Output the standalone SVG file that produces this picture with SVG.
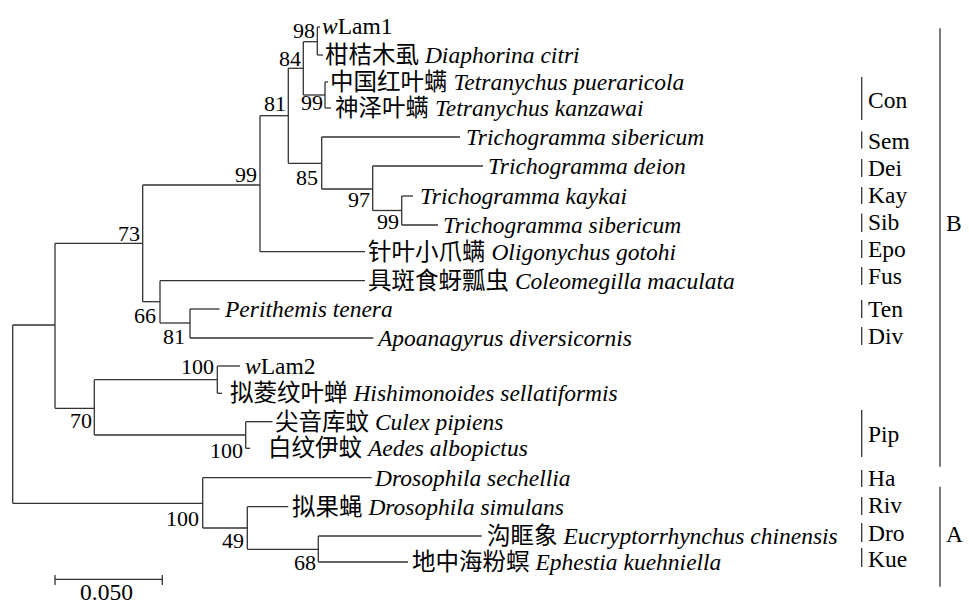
<svg xmlns="http://www.w3.org/2000/svg" width="969" height="604" viewBox="0 0 969 604">
<style>
.br{stroke:#333;stroke-width:1.3;fill:none}
.t{font-family:"Liberation Serif","Noto Sans CJK SC",serif;font-size:23.5px;fill:#000}
.i{font-style:italic}
.bs{font-family:"Liberation Serif",serif;font-size:22px;fill:#000;text-anchor:end}
.grp{stroke:#333;stroke-width:1.3;fill:none}
.gl{font-family:"Liberation Serif",serif;font-size:23.5px;fill:#000}
</style>
<rect width="969" height="604" fill="#fff"/>
<g id="connectors" class="br">
<!-- internal node verticals -->
<path d="M12.7,325V503.3"/>
<path d="M55,243.3V408.3"/>
<path d="M142.7,185V301.7"/>
<path d="M260,115.7V251.7"/>
<path d="M288.3,68.3V163.3"/>
<path d="M303.3,41.7V95"/>
<path d="M317.3,27V55"/>
<path d="M325,82V108"/>
<path d="M321.7,137V189"/>
<path d="M372.7,166V210.5"/>
<path d="M401.7,196V225"/>
<path d="M160,280.7V323"/>
<path d="M190,309V338"/>
<path d="M94.3,379.7V435"/>
<path d="M217.3,366V393.3"/>
<path d="M245.7,421.7V448.3"/>
<path d="M202.7,477.7V528"/>
<path d="M247.3,506.7V549.3"/>
<path d="M318.3,536V562"/>
<!-- horizontals to internal nodes -->
<path d="M12.7,325H55"/>
<path d="M12.7,503.3H202.7"/>
<path d="M55,243.3H142.7"/>
<path d="M55,408.3H94.3"/>
<path d="M142.7,185H260"/>
<path d="M142.7,301.7H160"/>
<path d="M260,115.7H288.3"/>
<path d="M288.3,68.3H303.3"/>
<path d="M303.3,41.7H317.3"/>
<path d="M303.3,95H325"/>
<path d="M288.3,163.3H321.7"/>
<path d="M321.7,189H372.7"/>
<path d="M372.7,210.5H401.7"/>
<path d="M160,323H190"/>
<path d="M94.3,379.7H217.3"/>
<path d="M94.3,435H245.7"/>
<path d="M202.7,528H247.3"/>
<path d="M247.3,549.3H318.3"/>
<!-- leaf branches -->
<path d="M317.3,27H320"/>
<path d="M317.3,55H323"/>
<path d="M325,82H328"/>
<path d="M325,108H331"/>
<path d="M321.7,137H460"/>
<path d="M372.7,166H483"/>
<path d="M401.7,196H413"/>
<path d="M401.7,225H438"/>
<path d="M260,251.7H365"/>
<path d="M160,280.7H365"/>
<path d="M190,309H219.5"/>
<path d="M190,338H373.3"/>
<path d="M217.3,366H240"/>
<path d="M217.3,393.3H222"/>
<path d="M245.7,421.7H272.5"/>
<path d="M245.7,448.3H250"/>
<path d="M202.7,477.7H371.7"/>
<path d="M247.3,506.7H288.3"/>
<path d="M318.3,536H481.7"/>
<path d="M318.3,562H408"/>
</g>
<!-- bootstrap labels as internal nodes -->
<g id="n98"><text class="bs" x="315" y="38">98</text></g>
<g id="n84"><text class="bs" x="301" y="66">84</text></g>
<g id="n81a"><text class="bs" x="286" y="111">81</text></g>
<g id="n99b"><text class="bs" x="323" y="110">99</text></g>
<g id="n85"><text class="bs" x="318" y="185">85</text></g>
<g id="n97"><text class="bs" x="370" y="207">97</text></g>
<g id="n99c"><text class="bs" x="399" y="229">99</text></g>
<g id="n99a"><text class="bs" x="257" y="182">99</text></g>
<g id="n73"><text class="bs" x="140" y="241">73</text></g>
<g id="n66"><text class="bs" x="156" y="323">66</text></g>
<g id="n81b"><text class="bs" x="185" y="344">81</text></g>
<g id="n70"><text class="bs" x="92" y="428">70</text></g>
<g id="n100a"><text class="bs" x="214" y="374">100</text></g>
<g id="n100b"><text class="bs" x="243" y="458">100</text></g>
<g id="n100c"><text class="bs" x="199" y="526">100</text></g>
<g id="n49"><text class="bs" x="244" y="548">49</text></g>
<g id="n68"><text class="bs" x="316" y="570">68</text></g>
<!-- leaves -->
<g id="leaf-wLam1"><text class="t" x="322" y="34"><tspan class="i">w</tspan>Lam1</text></g>
<g id="leaf-dcitri"><text class="t" x="325" y="63">柑桔木虱 <tspan class="i">Diaphorina citri</tspan></text></g>
<g id="leaf-tpuer"><text class="t" x="330" y="90">中国红叶螨 <tspan class="i">Tetranychus pueraricola</tspan></text></g>
<g id="leaf-tkanz"><text class="t" x="335" y="116">神泽叶螨 <tspan class="i">Tetranychus kanzawai</tspan></text></g>
<g id="leaf-tsib1"><text class="t i" x="466" y="145">Trichogramma sibericum</text></g>
<g id="leaf-tdeion"><text class="t i" x="488" y="174">Trichogramma deion</text></g>
<g id="leaf-tkay"><text class="t i" x="420" y="204">Trichogramma kaykai</text></g>
<g id="leaf-tsib2"><text class="t i" x="443" y="233">Trichogramma sibericum</text></g>
<g id="leaf-ogot"><text class="t" x="368" y="260">针叶小爪螨 <tspan class="i">Oligonychus gotohi</tspan></text></g>
<g id="leaf-cmac"><text class="t" x="368" y="289">具斑食蚜瓢虫 <tspan class="i">Coleomegilla maculata</tspan></text></g>
<g id="leaf-pten"><text class="t i" x="225" y="317">Perithemis tenera</text></g>
<g id="leaf-adiv"><text class="t i" x="378" y="346">Apoanagyrus diversicornis</text></g>
<g id="leaf-wLam2"><text class="t" x="245" y="374"><tspan class="i">w</tspan>Lam2</text></g>
<g id="leaf-hsel"><text class="t" x="230" y="401">拟菱纹叶蝉 <tspan class="i">Hishimonoides sellatiformis</tspan></text></g>
<g id="leaf-cpip"><text class="t" x="275" y="430">尖音库蚊 <tspan class="i">Culex pipiens</tspan></text></g>
<g id="leaf-aalb"><text class="t" x="268" y="456">白纹伊蚊 <tspan class="i">Aedes albopictus</tspan></text></g>
<g id="leaf-dsec"><text class="t i" x="375" y="486">Drosophila sechellia</text></g>
<g id="leaf-dsim"><text class="t" x="292" y="515">拟果蝇 <tspan class="i">Drosophila simulans</tspan></text></g>
<g id="leaf-echi"><text class="t" x="487" y="544">沟眶象 <tspan class="i">Eucryptorrhynchus chinensis</tspan></text></g>
<g id="leaf-ekue"><text class="t" x="412" y="570">地中海粉螟 <tspan class="i">Ephestia kuehniella</tspan></text></g>
<!-- scale bar -->
<g id="scale">
<path class="br" d="M55,579.3H162.3M55,575V585M162.3,575V585"/>
<text class="gl" x="80" y="600">0.050</text>
</g>
<!-- group labels -->
<g id="groups" class="grp">
<path d="M861.7,77V120"/>
<path d="M861.7,131.5V148.5"/>
<path d="M861.7,159V177"/>
<path d="M861.7,187V204"/>
<path d="M861.7,213.5V232"/>
<path d="M861.7,240V258"/>
<path d="M861.7,267V285"/>
<path d="M861.7,300V318"/>
<path d="M861.7,327V345"/>
<path d="M861.7,410V457"/>
<path d="M861.7,470V487"/>
<path d="M861.7,497V515"/>
<path d="M861.7,523V542"/>
<path d="M861.7,548V567"/>
<path d="M940,28.3V466.7"/>
<path d="M940,486.7V586.7"/>
</g>
<g id="group-labels">
<text class="gl" x="868" y="108">Con</text>
<text class="gl" x="868" y="149">Sem</text>
<text class="gl" x="868" y="176">Dei</text>
<text class="gl" x="868" y="203">Kay</text>
<text class="gl" x="868" y="230">Sib</text>
<text class="gl" x="868" y="257">Epo</text>
<text class="gl" x="868" y="284">Fus</text>
<text class="gl" x="868" y="317">Ten</text>
<text class="gl" x="868" y="344">Div</text>
<text class="gl" x="868" y="442">Pip</text>
<text class="gl" x="868" y="486">Ha</text>
<text class="gl" x="868" y="513">Riv</text>
<text class="gl" x="868" y="541">Dro</text>
<text class="gl" x="868" y="567">Kue</text>
<text class="gl" x="946" y="231">B</text>
<text class="gl" x="946" y="542">A</text>
</g>
</svg>
